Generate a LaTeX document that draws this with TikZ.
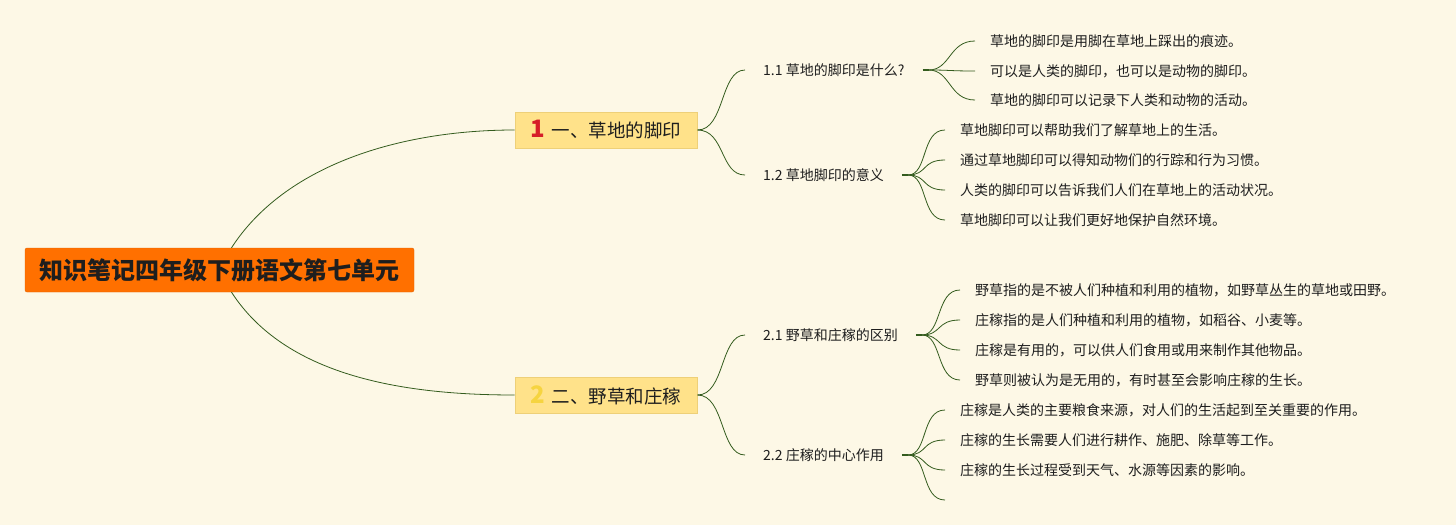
\documentclass[tikz,border=0pt]{standalone}
\usepackage{fontspec}
\setmainfont{Noto Sans CJK SC}
\usepackage{xcolor}
\usetikzlibrary{positioning}
\definecolor{bgcream}{RGB}{253,248,230}
\definecolor{rootorange}{RGB}{255,112,0}
\definecolor{mainfill}{RGB}{255,226,138}
\definecolor{mainline}{RGB}{238,208,120}
\definecolor{branchgreen}{RGB}{52,92,30}
\definecolor{txt}{RGB}{30,30,30}
\definecolor{numred}{RGB}{214,30,40}
\definecolor{numgold}{RGB}{246,212,64}
\tikzstyle{root} = [rectangle, rounded corners=2pt, minimum width=389pt, minimum height=44pt, text centered, fill=rootorange, draw=rootorange!90!black, line width=0.4pt, font=\fontsize{24}{28}\selectfont\bfseries, text=txt]
\tikzstyle{mainbox} = [rectangle, minimum width=182pt, minimum height=36pt, text centered, fill=mainfill, draw=mainline, line width=1pt, font=\fontsize{18.5}{22}\selectfont, text=txt]
\tikzstyle{topic} = [anchor=west, inner xsep=18pt, inner ysep=2pt, font=\fontsize{14}{16}\selectfont, text=txt]
\tikzstyle{leaf} = [anchor=west, inner xsep=15pt, inner ysep=2pt, font=\fontsize{14}{16}\selectfont, text=txt]
\tikzstyle{branch} = [draw=branchgreen, line width=0.8pt]
\tikzstyle{stub} = [draw=branchgreen, line width=2pt]
\newcommand{\numtag}[2]{{\color{#1}\fontsize{24}{24}\selectfont\bfseries #2}\hspace{6pt}}

\begin{document}
\begin{tikzpicture}[x=1pt, y=-1pt]
    \fill [bgcream] (0,0) rectangle (1456,525);
    \useasboundingbox (0,0) rectangle (1456,525);

    \node (root) [root] at (219.5,270) {知识笔记四年级下册语文第七单元};
    \node (m1) [mainbox] at (606,130) {\numtag{numred}{1}一、草地的脚印};
    \node (m2) [mainbox] at (606,395) {\numtag{numgold}{2}二、野草和庄稼};

    \draw [branch] ([xshift=12pt]root.north) .. controls (285,165) and (400,130) .. (m1.west);
    \draw [branch] ([xshift=12pt]root.south) .. controls (285,375) and (400,395) .. (m2.west);

    % part one
    \node (t11) [topic] at (745,70) {1.1 草地的脚印是什么?};
    \node (t12) [topic] at (745,175) {1.2 草地脚印的意义};
    \draw [branch] (m1.east) .. controls (725,130) and (720,70) .. (t11.west);
    \draw [branch] (m1.east) .. controls (725,130) and (720,175) .. (t12.west);

    \node (l111) [leaf] at (975,41) {草地的脚印是用脚在草地上踩出的痕迹。};
    \node (l112) [leaf] at (975,71) {可以是人类的脚印，也可以是动物的脚印。};
    \node (l113) [leaf] at (975,100) {草地的脚印可以记录下人类和动物的活动。};
    \draw [stub] (t11.east) -- ++(6,0) coordinate (j11);
    \foreach \n in {l111,l112,l113}
        \draw [branch] (j11) .. controls ([xshift=22pt]j11) and ([xshift=-26pt]\n.west) .. (\n.west);

    \node (l121) [leaf] at (945,130) {草地脚印可以帮助我们了解草地上的生活。};
    \node (l122) [leaf] at (945,160) {通过草地脚印可以得知动物们的行踪和行为习惯。};
    \node (l123) [leaf] at (945,190) {人类的脚印可以告诉我们人们在草地上的活动状况。};
    \node (l124) [leaf] at (945,220) {草地脚印可以让我们更好地保护自然环境。};
    \draw [stub] (t12.east) -- ++(6,0) coordinate (j12);
    \foreach \n in {l121,l122,l123,l124}
        \draw [branch] (j12) .. controls ([xshift=20pt]j12) and ([xshift=-24pt]\n.west) .. (\n.west);

    % part two
    \node (t21) [topic] at (745,335) {2.1 野草和庄稼的区别};
    \node (t22) [topic] at (745,455) {2.2 庄稼的中心作用};
    \draw [branch] (m2.east) .. controls (725,395) and (720,335) .. (t21.west);
    \draw [branch] (m2.east) .. controls (725,395) and (720,455) .. (t22.west);

    \node (l211) [leaf] at (960,290) {野草指的是不被人们种植和利用的植物，如野草丛生的草地或田野。};
    \node (l212) [leaf] at (960,320) {庄稼指的是人们种植和利用的植物，如稻谷、小麦等。};
    \node (l213) [leaf] at (960,350) {庄稼是有用的，可以供人们食用或用来制作其他物品。};
    \node (l214) [leaf] at (960,380) {野草则被认为是无用的，有时甚至会影响庄稼的生长。};
    \draw [stub] (t21.east) -- ++(6,0) coordinate (j21);
    \foreach \n in {l211,l212,l213,l214}
        \draw [branch] (j21) .. controls ([xshift=20pt]j21) and ([xshift=-24pt]\n.west) .. (\n.west);

    \node (l221) [leaf] at (945,410) {庄稼是人类的主要粮食来源，对人们的生活起到至关重要的作用。};
    \node (l222) [leaf] at (945,440) {庄稼的生长需要人们进行耕作、施肥、除草等工作。};
    \node (l223) [leaf] at (945,470) {庄稼的生长过程受到天气、水源等因素的影响。};
    \coordinate (l224) at (945,500);
    \draw [stub] (t22.east) -- ++(6,0) coordinate (j22);
    \foreach \n in {l221,l222,l223}
        \draw [branch] (j22) .. controls ([xshift=20pt]j22) and ([xshift=-24pt]\n.west) .. (\n.west);
    \draw [branch] (j22) .. controls ([xshift=20pt]j22) and ([xshift=-24pt]l224) .. (l224);
\end{tikzpicture}
\end{document}
